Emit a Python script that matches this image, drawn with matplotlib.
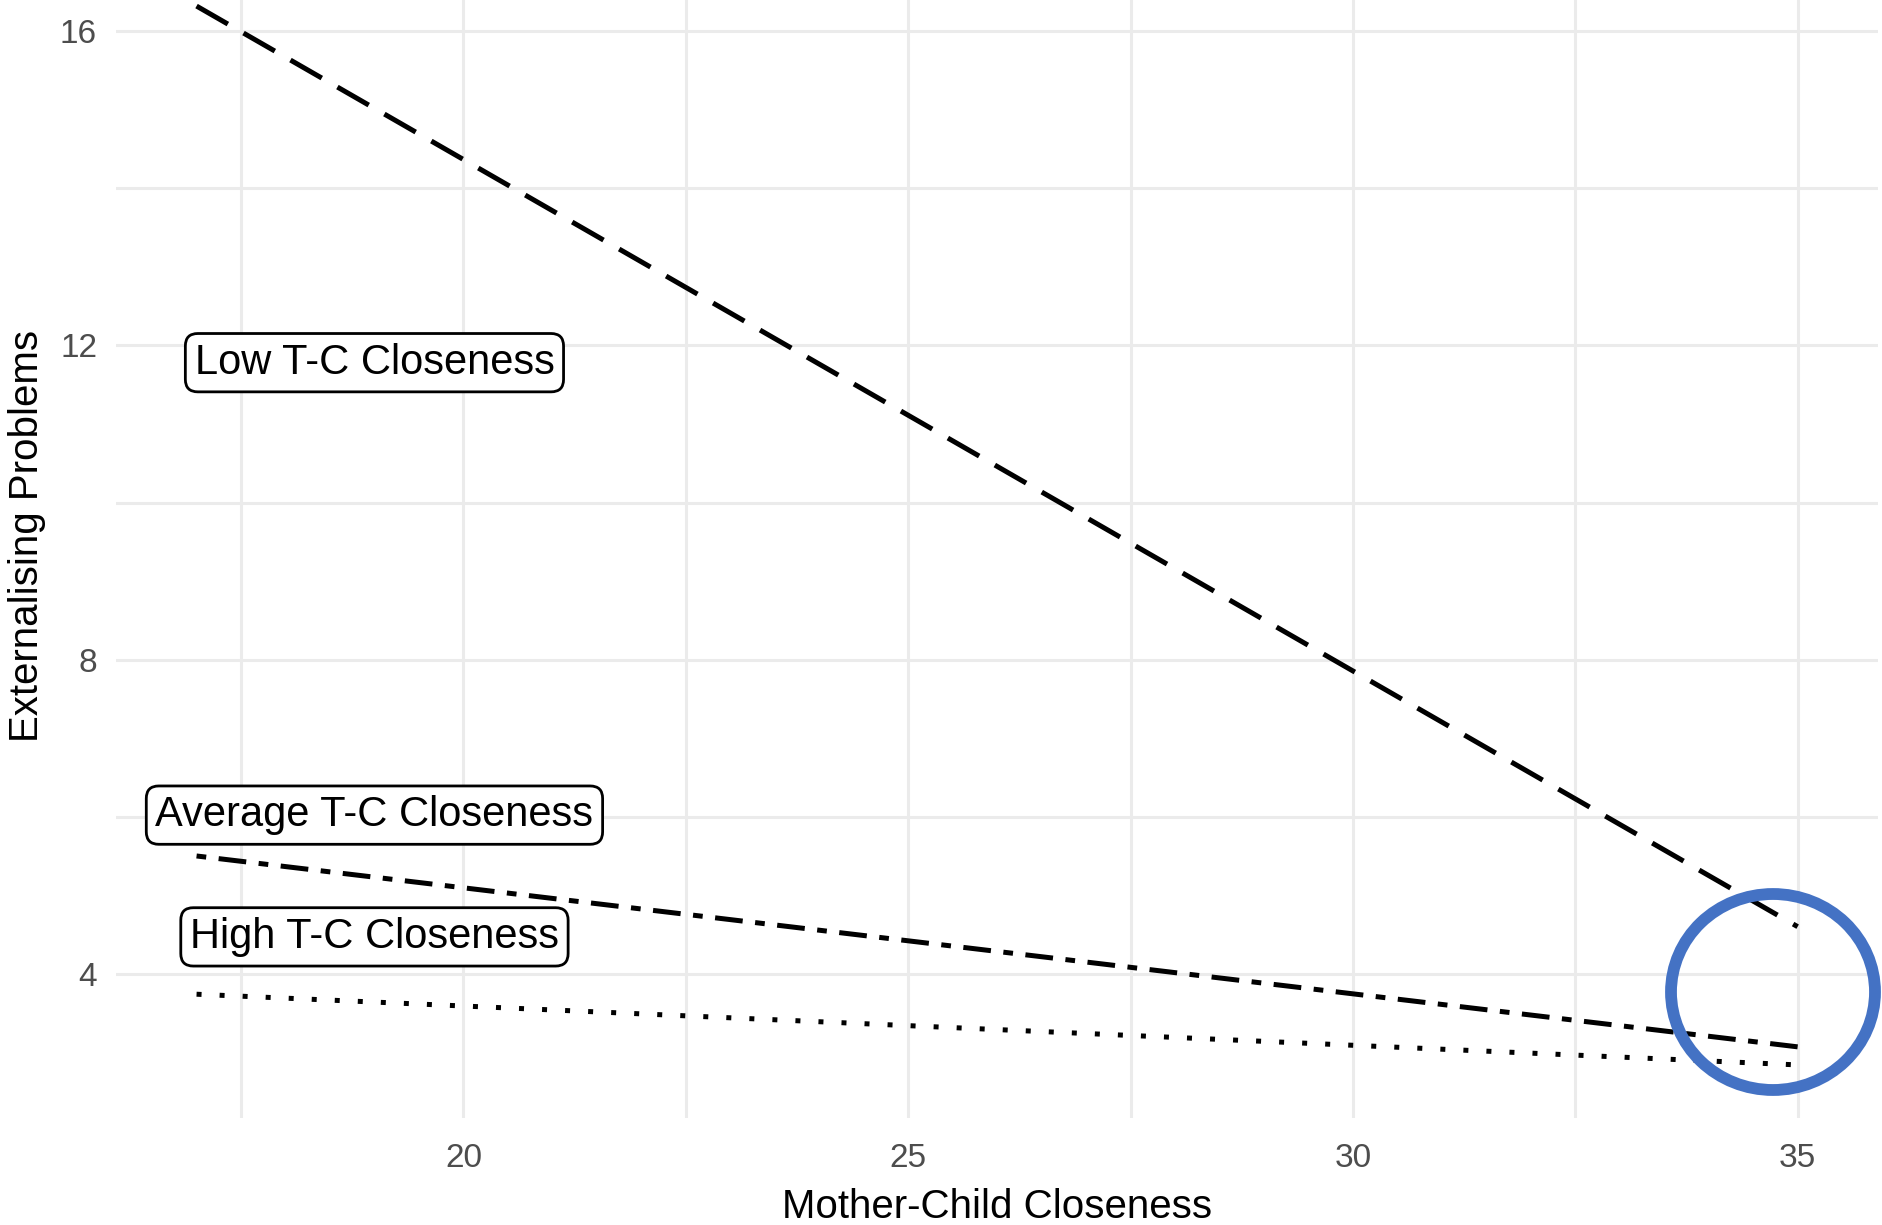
import matplotlib
matplotlib.use("Agg")
import matplotlib.pyplot as plt
from matplotlib.patches import Ellipse
import numpy as np

plt.rcParams['font.family'] = ['Liberation Sans', 'DejaVu Sans']
plt.rcParams['lines.scale_dashes'] = False

# data
closeness = [17, 35]
low_tc = [16.32, 4.60]
avg_tc = [5.50, 3.07]
high_tc = [3.74, 2.84]

label_names = ['Low T-C Closeness', 'Average T-C Closeness', 'High T-C Closeness']
label_x = [19.0, 19.0, 19.0]
label_y = [11.78, 6.02, 4.47]

W, H = 1883, 1225
fig = plt.figure(figsize=(W / 100, H / 100), dpi=100)
fig.patch.set_facecolor('white')

# panel in pixels; top of the panel is cut off by the image edge
ymin, ymax = 2.166, 16.994
px_per_unit = 78.55
y16 = 31.2
left, right = 116.5, 1877.7
bottom = y16 + (16 - ymin) * px_per_unit
top = y16 - (ymax - 16) * px_per_unit
ax = fig.add_axes([left / W, 1 - bottom / H, (right - left) / W, (bottom - top) / H])
ax.set_facecolor('white')

ax.set_xlim(16.1, 35.9)
ax.set_ylim(ymin, ymax)

grid_col = '#EBEBEB'
for v in np.arange(17.5, 36, 2.5):
    ax.axvline(v, color=grid_col, lw=2.2, zorder=0)
for v in np.arange(4, 17, 2):
    ax.axhline(v, color=grid_col, lw=2.2, zorder=0)

ax.plot(closeness, low_tc, color='black', lw=3.6, dashes=(26, 13), dash_capstyle='butt')
ax.plot(closeness, avg_tc, color='black', lw=3.6, dashes=(7, 9, 20, 9), dash_capstyle='butt')
ax.plot(closeness, high_tc, color='black', lw=3.6, dashes=(3.6, 13), dash_capstyle='butt')

for name, x, y in zip(label_names, label_x, label_y):
    ax.text(x, y, name, fontsize=30, ha='center', va='center', color='black',
            bbox=dict(boxstyle='round,pad=0.22,rounding_size=0.3', fc='white', ec='black', lw=2.0))

ax.set_xticks([20, 25, 30, 35])
ax.set_yticks([4, 8, 12, 16])
ax.tick_params(axis='x', length=0, labelsize=24, labelcolor='#4D4D4D', pad=18)
ax.tick_params(axis='y', length=0, labelsize=24, labelcolor='#4D4D4D', pad=14)
for s in ax.spines.values():
    s.set_visible(False)

ax.set_xlabel('Mother-Child Closeness', fontsize=29, color='black', labelpad=10)
ax.set_ylabel('Externalising Problems', fontsize=29, color='black', labelpad=10)

# blue highlight circle drawn on top
circ = Ellipse((1773 / W, 1 - 992 / H), 204 / W, 196 / H, transform=fig.transFigure,
               fill=False, ec='#4472C4', lw=8.5, zorder=10)
fig.patches.append(circ)

fig.savefig('out.png', dpi=100)
